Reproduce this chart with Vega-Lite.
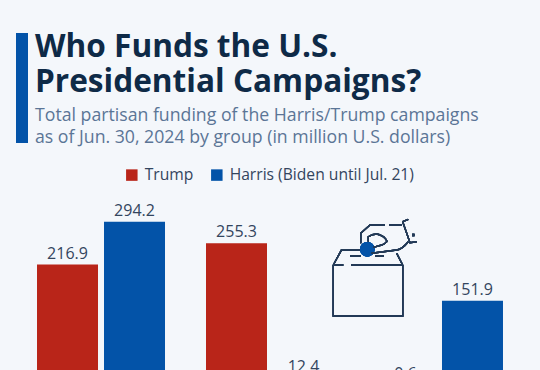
{
"$schema":"https://vega.github.io/schema/vega-lite/v6.json",
"width":540,"height":185,
"autosize":{"type":"none"},
"padding":{"left":0,"right":0,"top":200,"bottom":0},
"background":"#f4f7fb",
"view":{"stroke":null},
"title":{"text":["Who Funds the U.S.","Presidential Campaigns?"],"subtitle":["Total partisan funding of the Harris/Trump campaigns","as of Jun. 30, 2024 by group (in million U.S. dollars)"],
"anchor":"start","frame":"group","dx":35,"offset":-114,"font":"Open Sans","fontWeight":700,"fontSize":31.6,"lineHeight":35,"color":"#0e2a47",
"subtitleFont":"Open Sans","subtitleFontSize":17.7,"subtitleLineHeight":22,"subtitleColor":"#5b7596","subtitlePadding":9},
"data":{"values":[
{"group":"Group 1","party":"Trump","amount":216.9},
{"group":"Group 1","party":"Harris (Biden until Jul. 21)","amount":294.2},
{"group":"Group 2","party":"Trump","amount":255.3},
{"group":"Group 2","party":"Harris (Biden until Jul. 21)","amount":12.4},
{"group":"Group 3","party":"Trump","amount":0.6},
{"group":"Group 3","party":"Harris (Biden until Jul. 21)","amount":151.9}
]},
"resolve":{"scale":{"x":"independent"}},
"layer":[
{"mark":{"type":"rect","color":"#0353a8","clip":false},
 "encoding":{"x":{"datum":16,"type":"quantitative","scale":{"domain":[0,540]},"axis":null},"x2":{"datum":28},
 "y":{"datum":634.2,"type":"quantitative","scale":{"domain":[0,333.33],"nice":false},"axis":null},"y2":{"datum":436}}},
{"mark":{"type":"point","filled":true,"shape":"circle","size":215,"color":"#0353a8","opacity":1},
 "encoding":{"x":{"datum":367.3,"type":"quantitative","scale":{"domain":[0,540]},"axis":null},"y":{"datum":244.5,"type":"quantitative","scale":{"domain":[0,333.33],"nice":false}}}},
{"mark":{"type":"point","filled":false,"opacity":1,"size":4,"stroke":"#233a57","strokeWidth":1.4,
 "shape":"M-41.7 -2V49H27.7V-2M-41.7 -2H-31.7M-24 -2H27.7M-41.7 -2L-33.7 -16.7H-15M21.7 -13.7L27.7 -2M-25 -11H-14.3M0.3 -11H9M-14.3 -23.7V-33.7L-5 -42H10M14.3 -42H26.7M27.7 -45.3L33.3 -47.7M27.7 -45.3L35 -24.3L41.7 -25.3M33.3 -25.3C29 -20 25 -17.5 21.7 -17L-3.3 -13.7M-6.7 -25.3V-30.3C-3 -33 -1 -33 1.7 -33C6 -32 9 -30 10 -28.7C12 -26.5 12 -25.5 11.7 -25.3C10 -23 8 -22.5 6.7 -22L-1.7 -19.7M37.8 -32.5H38.8V-31.5H37.8Z"},
 "encoding":{"x":{"datum":375,"type":"quantitative","scale":{"domain":[0,540]},"axis":null},"y":{"datum":212.6,"type":"quantitative","scale":{"domain":[0,333.33],"nice":false}}}},
{"mark":{"type":"bar"},
 "encoding":{
 "x":{"field":"group","type":"nominal","axis":null,"scale":{"paddingInner":0.2426,"paddingOuter":0.219}},
 "xOffset":{"field":"party","type":"nominal","sort":["Trump","Harris (Biden until Jul. 21)"],"scale":{"paddingInner":0.0896,"paddingOuter":0}},
 "y":{"field":"amount","type":"quantitative","scale":{"domain":[0,333.33],"nice":false}},
 "color":{"field":"party","type":"nominal","sort":["Trump","Harris (Biden until Jul. 21)"],
  "scale":{"domain":["Trump","Harris (Biden until Jul. 21)"],"range":["#b92519","#0353a8"]},
  "legend":{"title":null,"orient":"none","legendX":124,"legendY":-33,"direction":"horizontal","symbolType":"square","symbolSize":132,"symbolStrokeWidth":0,"symbolOpacity":1,"labelFont":"Open Sans","labelFontSize":15.65,"labelColor":"#33455e","labelOffset":5,"columnPadding":15,"labelLimit":300}}
 }},
{"mark":{"type":"text","baseline":"bottom","dy":-3,"font":"Open Sans","fontSize":16,"color":"#33455e"},
 "encoding":{
 "x":{"field":"group","type":"nominal","axis":null,"scale":{"paddingInner":0.2426,"paddingOuter":0.219}},
 "xOffset":{"field":"party","type":"nominal","sort":["Trump","Harris (Biden until Jul. 21)"],"scale":{"paddingInner":0.0896,"paddingOuter":0}},
 "y":{"field":"amount","type":"quantitative","scale":{"domain":[0,333.33],"nice":false}},
 "text":{"field":"amount","type":"quantitative","format":".1f"}
 }}
]
}
